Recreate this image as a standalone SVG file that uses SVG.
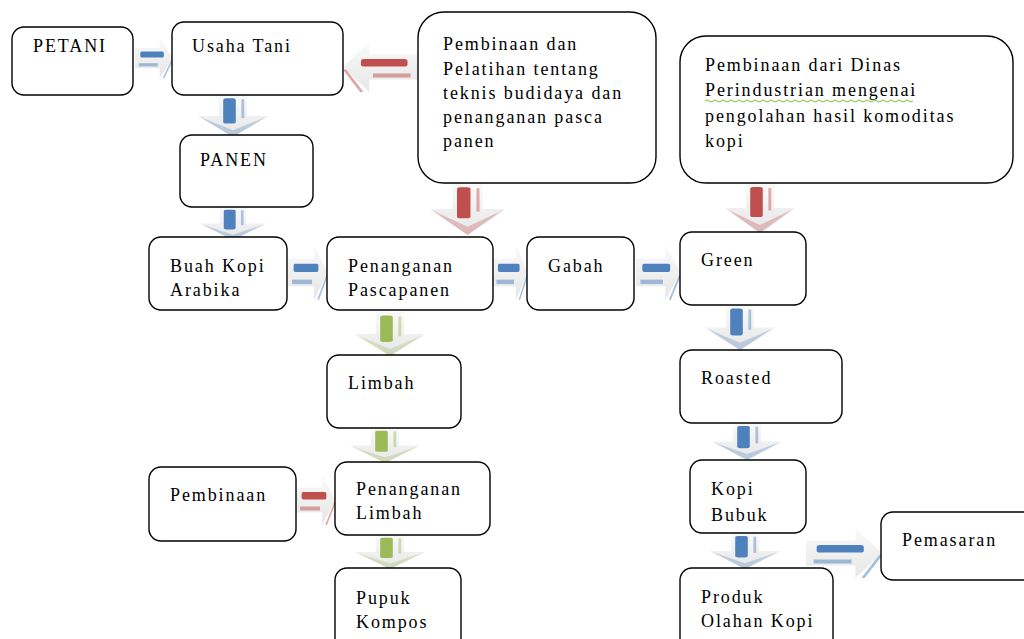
<svg xmlns="http://www.w3.org/2000/svg" xmlns:xlink="http://www.w3.org/1999/xlink" width="1024" height="639" viewBox="0 0 1024 639">
<style>
.box{fill:#fff;stroke:#000;stroke-width:1.4}
text{font-family:"Liberation Serif","Times New Roman",serif;font-size:18px;fill:#000;letter-spacing:1.9px}
.b{color:#4f81bd}.r{color:#c0504d}.g{color:#9bbb59}
</style>
<defs>
<linearGradient id="pale" x1="0" y1="0" x2="0" y2="1">
<stop offset="0" stop-color="#fafafa"/><stop offset="1" stop-color="#e6e6e6"/>
</linearGradient>
<symbol id="ra" viewBox="0 0 100 100" preserveAspectRatio="none">
<polygon points="0,25 65,25 65,0 100,50 65,100 65,75 0,75" fill="url(#pale)"/>
<rect x="14" y="34" width="62" height="15" rx="4" fill="currentColor"/>
<rect x="10" y="63" width="50" height="8" fill="currentColor" opacity="0.5"/>
<line x1="75" y1="100" x2="98" y2="55" stroke="currentColor" stroke-width="4" opacity="0.5"/>
</symbol>
<symbol id="da" viewBox="0 0 100 100" preserveAspectRatio="none">
<polygon points="30,0 70,0 70,50 100,50 50,100 0,50 30,50" fill="url(#pale)"/>
<path d="M2,52 L50,100 L98,52 L50,84 Z" fill="currentColor" opacity="0.3"/>
<rect x="36" y="8" width="18" height="60" rx="4" fill="currentColor"/>
<rect x="62" y="10" width="4" height="45" fill="currentColor" opacity="0.45"/>
</symbol>
</defs>
<g id="connectors">
<use xlink:href="#ra" class="b" x="135" y="38" width="38" height="40"/>
<use xlink:href="#ra" class="r" x="343" y="42" width="75" height="50" transform="translate(761 0) scale(-1 1)"/>
<use xlink:href="#da" class="b" x="198" y="95" width="70" height="42"/>
<use xlink:href="#da" class="b" x="200" y="207" width="66" height="33"/>
<use xlink:href="#da" class="r" x="430" y="183" width="75" height="52"/>
<use xlink:href="#da" class="r" x="725" y="183" width="70" height="50"/>
<use xlink:href="#ra" class="b" x="288" y="245" width="40" height="55"/>
<use xlink:href="#ra" class="b" x="493" y="245" width="35" height="55"/>
<use xlink:href="#ra" class="b" x="636" y="245" width="45" height="55"/>
<use xlink:href="#da" class="g" x="355" y="312" width="70" height="44"/>
<use xlink:href="#da" class="g" x="350" y="428" width="70" height="35"/>
<use xlink:href="#da" class="g" x="355" y="535" width="70" height="34"/>
<use xlink:href="#ra" class="r" x="296" y="475" width="40" height="50"/>
<use xlink:href="#da" class="b" x="705" y="305" width="70" height="45"/>
<use xlink:href="#da" class="b" x="712" y="423" width="70" height="37"/>
<use xlink:href="#da" class="b" x="710" y="533" width="70" height="36"/>
<use xlink:href="#ra" class="b" x="806" y="528" width="76" height="50"/>
</g>
<g id="petani"><rect class="box" x="12" y="27" width="121" height="68" rx="12"/><text x="33" y="52">PETANI</text></g>
<g id="usaha-tani"><rect class="box" x="172" y="22" width="171" height="73" rx="12"/><text x="192" y="52">Usaha Tani</text></g>
<g id="pembinaan-pelatihan"><rect class="box" x="418" y="12" width="238" height="171" rx="26"/>
<text x="443" y="50">Pembinaan dan</text><text x="443" y="75">Pelatihan tentang</text><text x="443" y="99">teknis budidaya dan</text><text x="443" y="123">penanganan pasca</text><text x="443" y="147">panen</text></g>
<g id="pembinaan-dinas"><rect class="box" x="680" y="36" width="333" height="147" rx="26"/>
<text x="705" y="71">Pembinaan dari Dinas</text><text x="705" y="96">Perindustrian mengenai</text><text x="705" y="122">pengolahan hasil komoditas</text><text x="705" y="147">kopi</text>
<path d="M705,101 q2,-2 4,0 t4,0 t4,0 t4,0 t4,0 t4,0 t4,0 t4,0 t4,0 t4,0 t4,0 t4,0 t4,0 t4,0 t4,0 t4,0 t4,0 t4,0 t4,0 t4,0 t4,0 t4,0 t4,0 t4,0 t4,0 t4,0 t4,0 t4,0 t4,0 t4,0 t4,0 t4,0 t4,0 t4,0 t4,0 t4,0 t4,0 t4,0 t4,0 t4,0 t4,0 t4,0 t4,0 t4,0 t4,0 t4,0 t4,0 t4,0 t4,0 t4,0 t4,0 t4,0" fill="none" stroke="#7fbf3f" stroke-width="1"/></g>
<g id="panen"><rect class="box" x="180" y="135" width="133" height="72" rx="12"/><text x="200" y="166">PANEN</text></g>
<g id="buah-kopi"><rect class="box" x="149" y="237" width="138" height="73" rx="12"/><text x="170" y="272">Buah Kopi</text><text x="170" y="296">Arabika</text></g>
<g id="penanganan-pascapanen"><rect class="box" x="327" y="237" width="166" height="73" rx="12"/><text x="348" y="272">Penanganan</text><text x="348" y="296">Pascapanen</text></g>
<g id="gabah"><rect class="box" x="527" y="237" width="107" height="73" rx="12"/><text x="548" y="272">Gabah</text></g>
<g id="green"><rect class="box" x="680" y="232" width="126" height="73" rx="12"/><text x="701" y="266">Green</text></g>
<g id="limbah"><rect class="box" x="327" y="355" width="134" height="73" rx="12"/><text x="348" y="389">Limbah</text></g>
<g id="roasted"><rect class="box" x="680" y="350" width="162" height="73" rx="12"/><text x="701" y="384">Roasted</text></g>
<g id="pembinaan"><rect class="box" x="149" y="467" width="147" height="74" rx="12"/><text x="170" y="501">Pembinaan</text></g>
<g id="penanganan-limbah"><rect class="box" x="335" y="462" width="155" height="73" rx="12"/><text x="356" y="495">Penanganan</text><text x="356" y="519">Limbah</text></g>
<g id="kopi-bubuk"><rect class="box" x="690" y="460" width="116" height="73" rx="12"/><text x="711" y="495">Kopi</text><text x="711" y="521">Bubuk</text></g>
<g id="pemasaran"><rect class="box" x="881" y="512" width="160" height="68" rx="12"/><text x="902" y="546">Pemasaran</text></g>
<g id="pupuk-kompos"><rect class="box" x="335" y="568" width="126" height="90" rx="12"/><text x="356" y="604">Pupuk</text><text x="356" y="628">Kompos</text></g>
<g id="produk-olahan"><rect class="box" x="680" y="568" width="153" height="90" rx="12"/><text x="701" y="603">Produk</text><text x="701" y="627">Olahan Kopi</text></g>
</svg>
